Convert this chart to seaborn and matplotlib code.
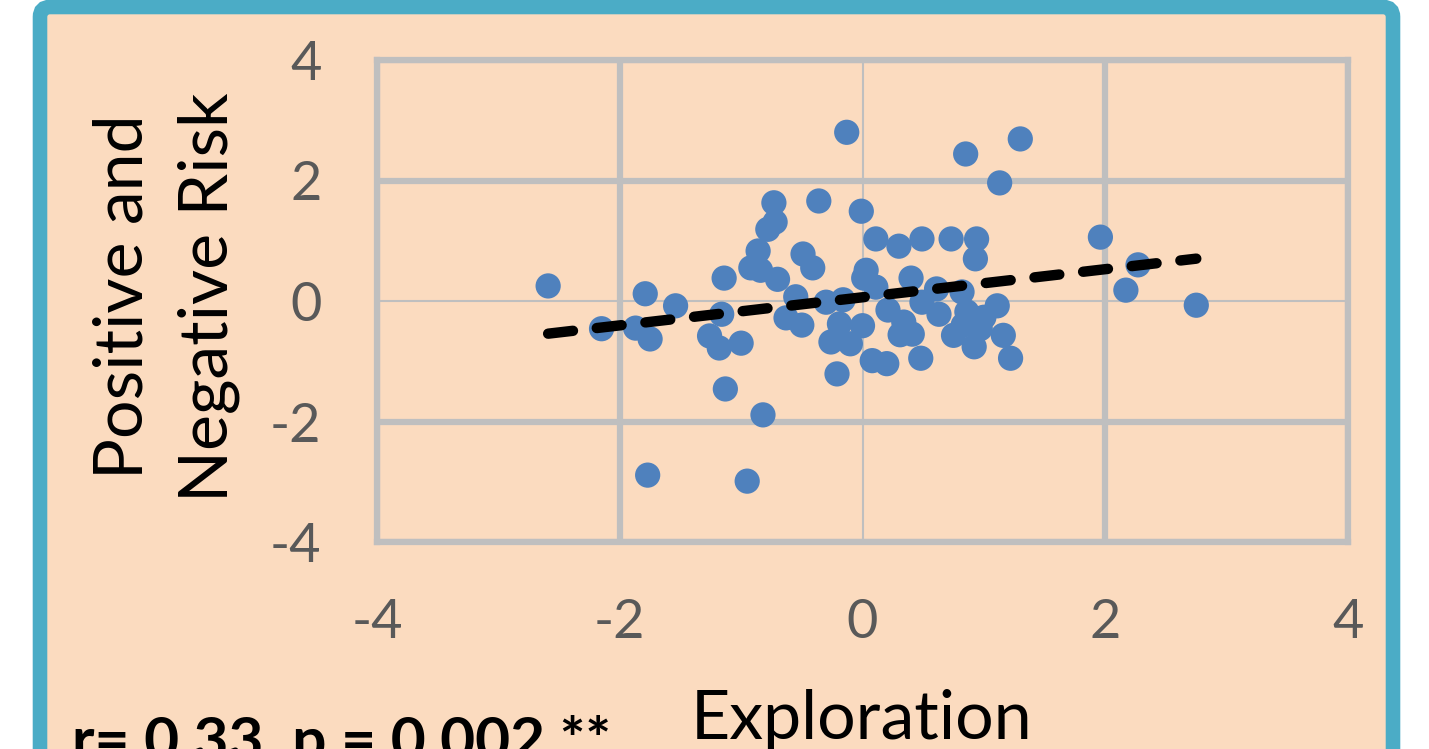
import numpy as np
import pandas as pd
import matplotlib
matplotlib.use("Agg")
import matplotlib.pyplot as plt
import seaborn as sns
from matplotlib.patches import FancyBboxPatch

# puntos (Exploration vs Positive and Negative Risk)
exploration = [
    -2.59, -2.15, -1.79, -1.87, -1.75, -1.54, -1.14, -1.16, -1.26, -1.18,
    -1.00, -1.13, -0.82, -1.77, -0.95, -0.73, -0.72, -0.78, -0.86, -0.92,
    -0.84, -0.70, -0.49, -0.41, -0.55, -0.63, -0.50, -0.36, -0.13, 0.85,
    1.30, 1.13, -0.01, 0.11, 0.30, 0.49, 0.73, 0.94, 0.93, 0.03,
    0.01, 0.11, 0.40, 0.61, 0.82, 1.11, -0.30, -0.16, -0.19, 0.00,
    -0.26, -0.10, -0.21, 0.08, 0.20, 0.21, 0.34, 0.31, 0.41, 0.48,
    0.49, 0.63, 0.75, 0.86, 0.92, 0.97, 1.16, 1.22, 1.96, 2.27,
    2.17, 2.75, 0.90, 1.00, 0.83,
]
risk = [
    0.25, -0.46, 0.12, -0.45, -0.63, -0.08, 0.38, -0.22, -0.58, -0.78,
    -0.70, -1.46, -1.89, -2.89, -2.99, 1.63, 1.31, 1.19, 0.83, 0.55,
    0.51, 0.36, 0.78, 0.55, 0.07, -0.28, -0.40, 1.66, 2.80, 2.44,
    2.69, 1.96, 1.49, 1.03, 0.91, 1.03, 1.03, 1.03, 0.70, 0.51,
    0.38, 0.23, 0.38, 0.20, 0.15, -0.08, -0.02, 0.02, -0.38, -0.41,
    -0.68, -0.71, -1.21, -0.99, -1.04, -0.15, -0.35, -0.56, -0.55, -0.95,
    -0.02, -0.22, -0.57, -0.18, -0.76, -0.46, -0.57, -0.95, 1.06, 0.60,
    0.18, -0.07, -0.30, -0.27, -0.40,
]
tick_values = [-4, -2, 0, 2, 4]
stats_text = "r= 0.33, p = 0.002 **"

df = pd.DataFrame({"Exploration": exploration, "Risk": risk})

W, H = 1429, 749
peach = "#FBDBBF"
frame_blue = "#4BACC6"
grid_gray = "#BFBFBF"
point_blue = "#4F81BD"

fig = plt.figure(figsize=(W / 100, H / 100), dpi=100)
fig.patch.set_facecolor("white")

# marco azul con fondo melocoton
bg = fig.add_axes([0, 0, 1, 1])
bg.set_xlim(0, W)
bg.set_ylim(H, 0)
bg.axis("off")
bg.add_patch(FancyBboxPatch((40, 7), 1353, 800,
                            boxstyle="round,pad=0,rounding_size=10",
                            facecolor=peach, edgecolor=frame_blue, linewidth=10.5))

ax = fig.add_axes([377 / W, (H - 542) / H, 971 / W, 482 / H])
ax.set_facecolor(peach)

sns.scatterplot(data=df, x="Exploration", y="Risk", ax=ax, s=330,
                color=point_blue, edgecolor="none", zorder=3)
sns.regplot(data=df, x="Exploration", y="Risk", ax=ax, scatter=False, ci=None,
            truncate=True,
            line_kws=dict(color="black", lw=7.5, linestyle=(0, (2.4, 2.3)),
                          dash_capstyle="round", zorder=4))

ax.set_xlim(-4, 4)
ax.set_ylim(-4, 4)
ax.set_xticks(tick_values)
ax.set_yticks(tick_values)
ax.set_xticklabels([str(v) for v in tick_values])
ax.set_yticklabels([str(v) for v in tick_values])

ax.grid(True, color=grid_gray, linewidth=4.5, zorder=1)
ax.set_axisbelow(True)
for line, v in zip(ax.get_xgridlines(), tick_values):
    if v == 0:
        line.set_linewidth(1.5)
for line, v in zip(ax.get_ygridlines(), tick_values):
    if v == 0:
        line.set_linewidth(1.5)
for sp in ax.spines.values():
    sp.set_color(grid_gray)
    sp.set_linewidth(4.5)

font = "Lato"
ax.tick_params(length=0, labelsize=39, labelcolor="#595959", pad=40)
for lab in ax.get_xticklabels() + ax.get_yticklabels():
    lab.set_family(font)

ax.set_xlabel("")
ax.set_ylabel("")
fig.text(862 / W, 1 - 739 / H, "Exploration", ha="center", va="baseline",
         fontsize=49, family=font, color="black")
fig.text(166 / W, 1 - 297 / H, "Positive and\nNegative Risk", ha="center",
         va="center", rotation=90, fontsize=49, family=font, color="black",
         linespacing=1.45)
fig.text(72 / W, 1 - 760 / H, stats_text, ha="left", va="baseline",
         fontsize=43.5, family=font, weight="bold", color="black")

fig.savefig("out.png", dpi=100)
